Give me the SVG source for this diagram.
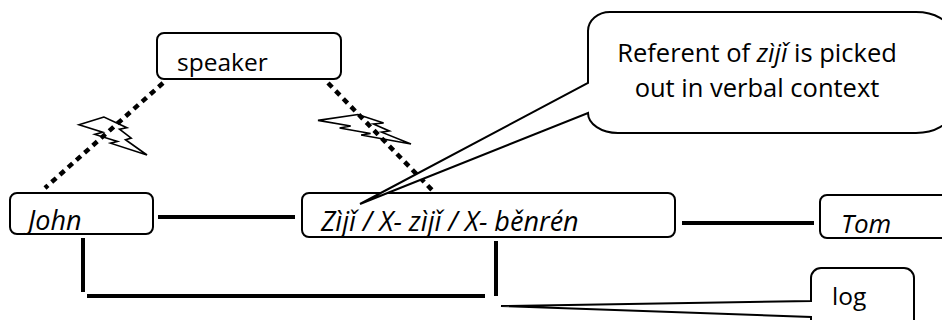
<svg xmlns="http://www.w3.org/2000/svg" width="942" height="320" viewBox="0 0 942 320">
<style>
.box{fill:#fff;stroke:#000;stroke-width:2}
.t{font-family:"Open Sans","Noto Sans","Liberation Sans",sans-serif;font-size:24.5px;fill:#000}
.c{font-size:25.5px}
.i{font-style:italic;font-size:27px}
.solid{stroke:#000;stroke-width:4;fill:none}
.dot{stroke:#000;stroke-width:4.5;stroke-dasharray:6 5;fill:none}
.bolt{fill:none;stroke:#000;stroke-width:1.6;stroke-linejoin:miter}
</style>
<g id="connectors">
<line class="dot" x1="163" y1="83" x2="45" y2="188"/>
<line class="dot" x1="328" y1="83" x2="432" y2="190"/>
<line class="solid" x1="158" y1="217" x2="295" y2="217"/>
<line class="solid" x1="682" y1="223" x2="814" y2="223"/>
<line class="solid" x1="83" y1="238" x2="83" y2="292"/>
<line class="solid" x1="87" y1="296" x2="485" y2="296"/>
<line class="solid" x1="496" y1="241" x2="496" y2="296"/>
</g>
<g id="bolt1">
<polygon class="bolt" points="104,117 79,124.8 102.7,132.2 94.8,134.4 117.5,141.4 110.5,143.2 147,155 125.5,139.7 131.2,138.1 119.5,129.2 126.9,127.7"/>
</g>
<g id="bolt2">
<polygon class="bolt" points="358,114.5 318,120.4 350.7,126 339.6,128 370.6,133.5 361.1,135 411,144 381.6,132.2 389.3,131 373.4,124 383.6,123"/>
</g>
<g id="speaker">
<rect class="box" x="157" y="33" width="184" height="46" rx="7"/>
<text class="t" x="177" y="71">speaker</text>
</g>
<g id="john">
<rect class="box" x="10" y="193" width="143" height="41" rx="7"/>
<text class="t i" x="28" y="230">John</text>
</g>
<g id="ziji">
<rect class="box" x="302" y="193" width="373" height="44" rx="7"/>
<text class="t i" x="321" y="231">Zìjǐ / X- zìjǐ / X- běnrén</text>
</g>
<g id="tom">
<rect class="box" x="820" y="195" width="140" height="43" rx="7"/>
<text class="t i" x="841" y="233" style="font-size:26px">Tom</text>
</g>
<g id="callout">
<path class="box" d="M616 12 H916 A34 20 0 0 1 950 32 V113 A34 20 0 0 1 916 133 H618 A30 20 0 0 1 588 113 L360 204 L588 83 V31 A22 19 0 0 1 610 12 Z"/>
<text class="t c" x="757" y="62" text-anchor="middle">Referent of <tspan class="i" style="font-size:25.5px">zìjǐ</tspan> is picked</text>
<text class="t c" x="757" y="97" text-anchor="middle">out in verbal context</text>
</g>
<g id="log">
<path class="box" d="M811 330 V317 L501 306 L811 301 V278 A10 10 0 0 1 821 268 H904 A10 10 0 0 1 914 278 V330 Z"/>
<text class="t" x="832" y="305">log</text>
</g>
</svg>
